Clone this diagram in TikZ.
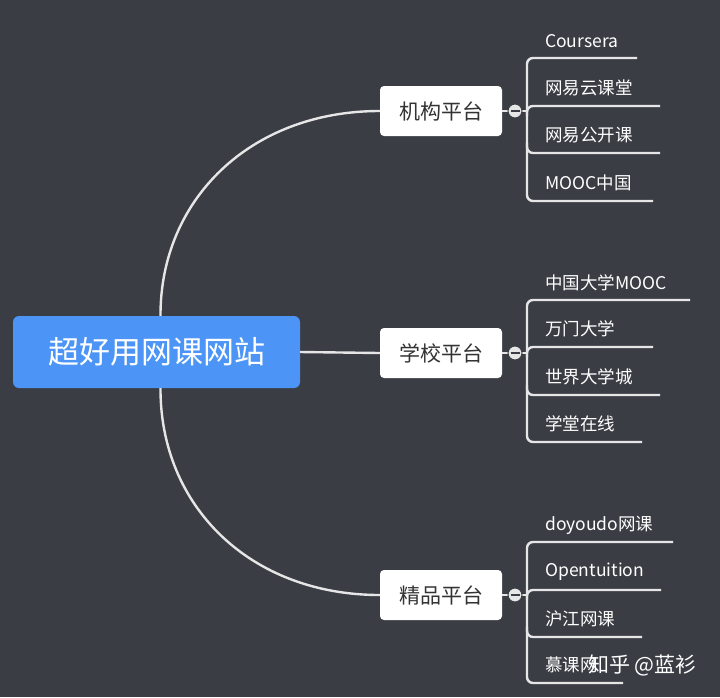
\documentclass[tikz,border=0pt]{standalone}
\usepackage{fontspec}
\setmainfont{Noto Sans CJK SC}
\definecolor{bg}{HTML}{3A3D44}
\definecolor{mainblue}{HTML}{4C95F7}
\definecolor{ln}{HTML}{E6E6E6}
\begin{document}
\begin{tikzpicture}[x=1pt,y=-1pt,
  cat/.style={draw=none,fill=white,rounded corners=4pt,minimum width=122pt,minimum height=50pt,font=\fontsize{21}{24}\selectfont,text=black!80},
  leaf/.style={anchor=west,text=white,font=\fontsize{17.5}{20}\selectfont,inner sep=0pt},
  conn/.style={draw=ln,line width=2.4pt},
  minus/.style={circle,fill=ln,draw=bg,line width=1pt,minimum size=14pt,inner sep=0pt}]
\fill[bg] (0,0) rectangle (720,697);
\useasboundingbox (0,0) rectangle (720,697);
\node[fill=mainblue,rounded corners=6pt,minimum width=287pt,minimum height=72pt,text=white,font=\fontsize{31}{35}\selectfont] (root) at (156.5,352) {超好用网课网站};
\node[cat] (c1) at (441,111) {机构平台};
\node[cat] (c2) at (441,353) {学校平台};
\node[cat] (c3) at (441,595) {精品平台};
\draw[conn] ([xshift=4pt]root.north) .. controls (160,200) and (250,111) .. (c1.west);
\draw[conn] ([xshift=4pt]root.south) .. controls (160,506) and (250,595) .. (c3.west);
\draw[conn] (root.east) -- (c2.west);
\foreach \g/\cy/\ya/\yb/\yc/\yd/\ea/\eb/\ec/\ed/\ta/\tb/\tc/\td in {
  1/111/58/106/153/201/637/660/660/653/Coursera/网易云课堂/网易公开课/MOOC中国,
  2/353/300/347/395/442/690/653/660/642/中国大学MOOC/万门大学/世界大学城/学堂在线,
  3/595/542/590/637/683/673/661/642/623/doyoudo网课/Opentuition/沪江网课/慕课网}{
  \coordinate (v\g a) at (527,\ya);
  \coordinate (v\g d) at (527,\yd);
  \coordinate (e\g a) at (\ea,\ya);
  \coordinate (e\g b) at (\eb,\yb);
  \coordinate (e\g c) at (\ec,\yc);
  \coordinate (e\g d) at (\ed,\yd);
  \coordinate (j\g) at (527,\cy);
  \draw[conn,rounded corners=6pt] (e\g a) -- (v\g a) -- (v\g d) -- (e\g d);
  \draw[conn,rounded corners=6pt] (e\g b) -- (527,\yb) -- (527,\yb+10);
  \draw[conn,rounded corners=6pt] (e\g c) -- (527,\yc) -- (527,\yc-10);
  \draw[conn] (c\g.east) -- (j\g);
  \node[minus] (m\g) at (515,\cy) {};
  \draw[draw=bg,line width=1.4pt] (510.5,\cy) -- (519.5,\cy);
  \node[leaf] (l\g a) at (545,\ya-17) {\ta};
  \node[leaf] (l\g b) at (545,\yb-18) {\tb};
  \node[leaf] (l\g c) at (545,\yc-18) {\tc};
  \node[leaf] (l\g d) at (545,\yd-18) {\td};
}
\node[anchor=west,text=white,font=\fontsize{21}{24}\selectfont,inner sep=0pt] (wm) at (588,665) {知乎 @蓝衫};
\end{tikzpicture}
\end{document}
